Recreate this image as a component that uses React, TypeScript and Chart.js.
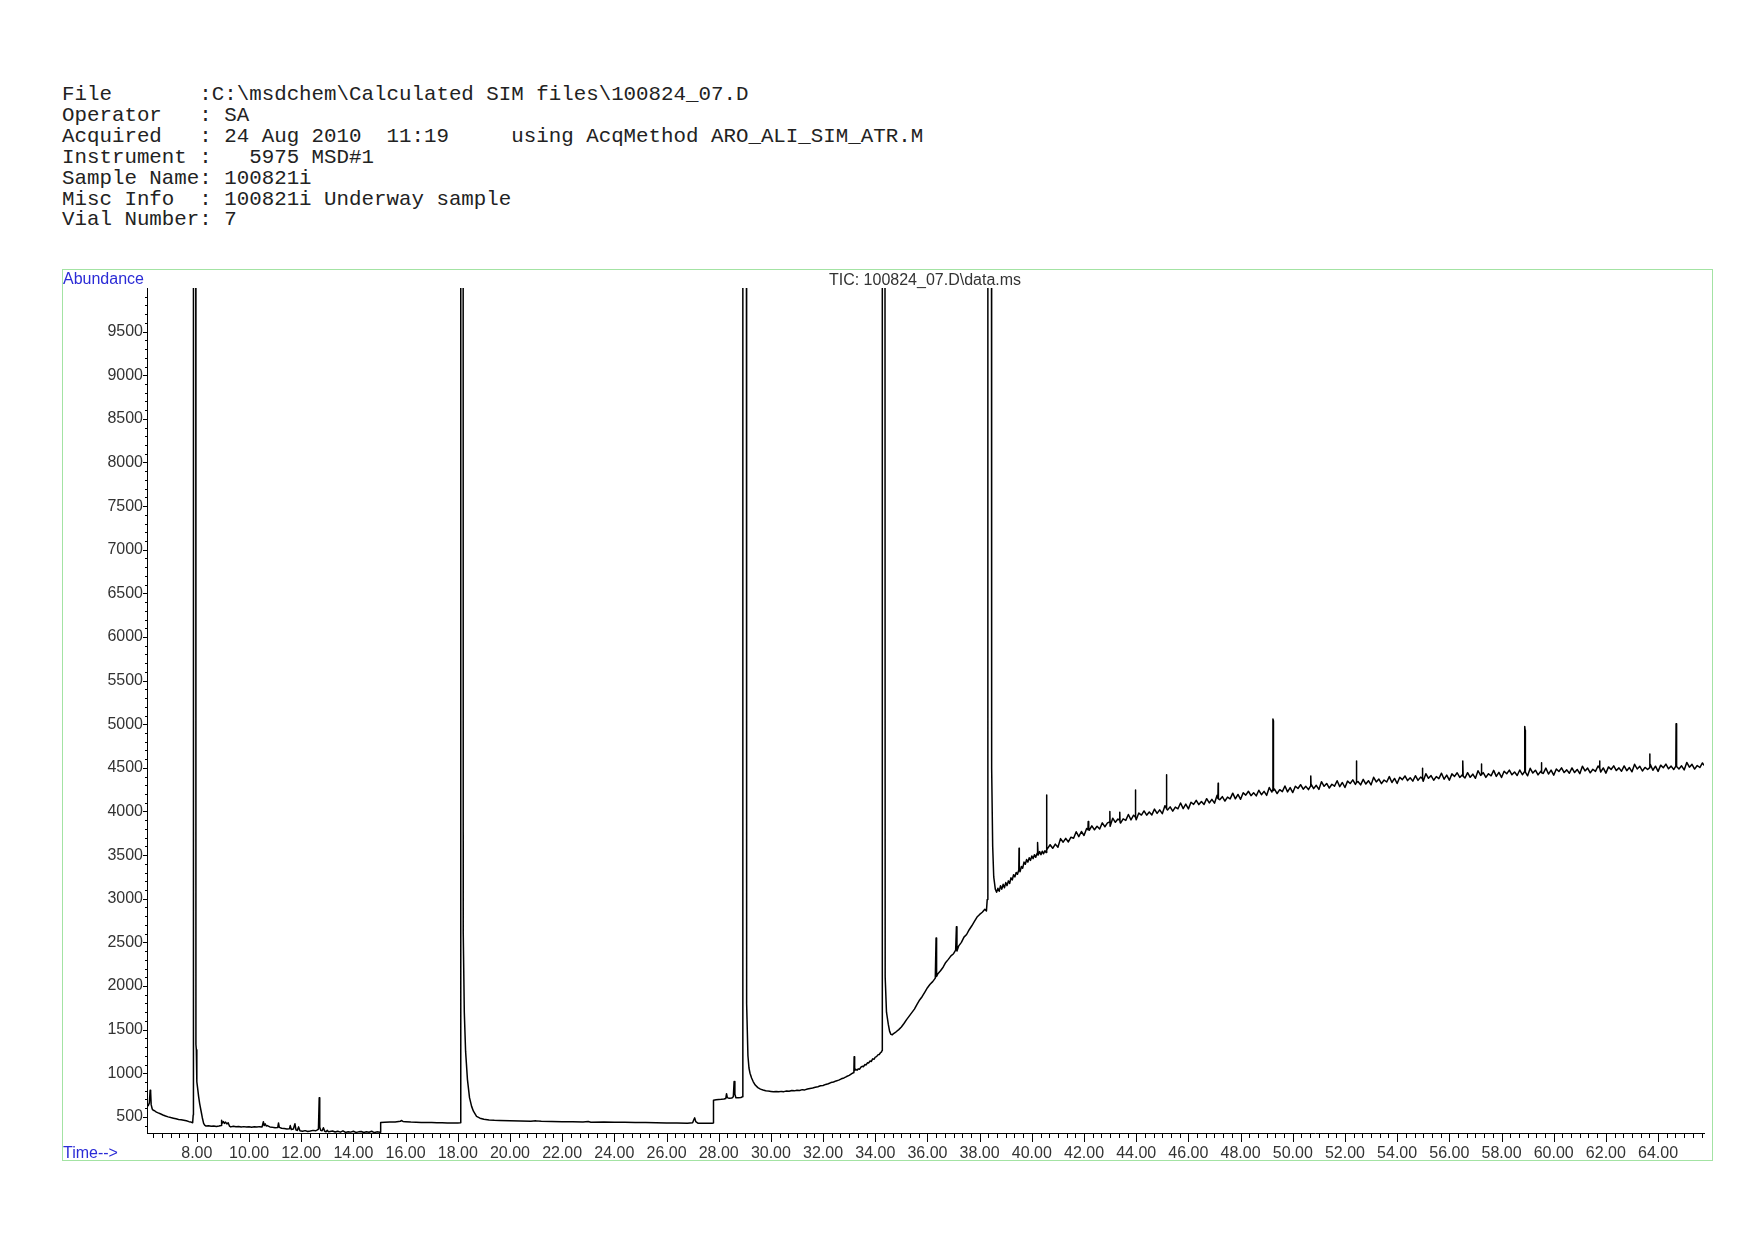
import React, { useEffect, useRef } from 'react';
import { Chart, registerables } from 'chart.js';

Chart.register(...registerables);

const headerLines = [
  'File       :C:\\msdchem\\Calculated SIM files\\100824_07.D',
  'Operator   : SA',
  'Acquired   : 24 Aug 2010  11:19     using AcqMethod ARO_ALI_SIM_ATR.M',
  'Instrument :   5975 MSD#1',
  'Sample Name: 100821i',
  'Misc Info  : 100821i Underway sample',
  'Vial Number: 7',
];

const chartTitle = 'TIC: 100824_07.D\\data.ms';
const yAxisName = 'Abundance';
const xAxisName = 'Time-->';

// axis ranges and ticks
const timeRange = [6.09, 65.76];
const abundanceRange = [315, 10000];
const xMajorTicks = [8, 10, 12, 14, 16, 18, 20, 22, 24, 26, 28, 30, 32, 34, 36, 38, 40, 42, 44, 46, 48, 50, 52, 54, 56, 58, 60, 62, 64];
const xMinorPerMajor = 6; // minor tick every 1/3 min
const yMajorTicks = [500, 1000, 1500, 2000, 2500, 3000, 3500, 4000, 4500, 5000, 5500, 6000, 6500, 7000, 7500, 8000, 8500, 9000, 9500];
const yMinorStep = 100;

// [time (min), abundance]
const earlyTrace = [
  [6.08, 615], [6.14, 630], [6.18, 660], [6.21, 805], [6.23, 780], [6.25, 640], [6.29, 590], [6.33, 575],
  [6.38, 570], [6.45, 555], [6.52, 545], [6.6, 535], [6.7, 522], [6.8, 510], [6.9, 500], [7.0, 492],
  [7.1, 485], [7.2, 478], [7.3, 470], [7.4, 468], [7.5, 462], [7.6, 455], [7.7, 445], [7.78, 440], [7.84, 432],
  [7.86, 520], [7.87, 25000], [7.91, 40000], [7.95, 25000], [7.965, 1330], [7.98, 1270], [7.995, 1240],
  [8.005, 900], [8.03, 830], [8.07, 730], [8.11, 650], [8.16, 570], [8.21, 490], [8.26, 425], [8.3, 405],
  [8.35, 395], [8.45, 398], [8.55, 392], [8.65, 396], [8.75, 390], [8.85, 395], [8.93, 400], [8.95, 460],
  [8.98, 430], [9.02, 445], [9.06, 425], [9.1, 440], [9.15, 420], [9.2, 432], [9.25, 395], [9.3, 385],
  [9.4, 392], [9.5, 386], [9.6, 390], [9.7, 384], [9.8, 388], [9.9, 383], [10.0, 387], [10.1, 382],
  [10.2, 386], [10.3, 384], [10.4, 388], [10.5, 385], [10.55, 445], [10.58, 400], [10.62, 420], [10.66, 395],
  [10.7, 400], [10.8, 385], [10.9, 380], [11.0, 376], [11.1, 378], [11.13, 430], [11.16, 380], [11.25, 370],
  [11.35, 366], [11.45, 362], [11.55, 365], [11.58, 400], [11.62, 355], [11.7, 360], [11.76, 420], [11.8, 350],
  [11.85, 345], [11.9, 385], [11.95, 340], [12.05, 335], [12.15, 342], [12.25, 332], [12.35, 338], [12.45, 345],
  [12.55, 340], [12.62, 350], [12.66, 360], [12.69, 720], [12.71, 380], [12.75, 345], [12.8, 340], [12.85, 375],
  [12.9, 335], [12.95, 330], [13.0, 345], [13.05, 328], [13.1, 332], [13.2, 338], [13.3, 326], [13.4, 335],
  [13.5, 325], [13.6, 340], [13.7, 322], [13.8, 330], [13.9, 325], [14.0, 335], [14.1, 322], [14.2, 328],
  [14.3, 332], [14.4, 320], [14.5, 330], [14.6, 324], [14.7, 335], [14.8, 320], [14.9, 328], [15.02, 325],
];

const midTrace = [
  [15.04, 330], [15.05, 435], [15.2, 438], [15.4, 440], [15.6, 442], [15.8, 450], [15.85, 458], [15.9, 448],
  [16.0, 445], [16.2, 440], [16.4, 438], [16.6, 436], [16.8, 435], [17.0, 434], [17.2, 433], [17.4, 432],
  [17.6, 431], [17.8, 430], [18.0, 430], [18.1, 432],
  [18.11, 600], [18.12, 25000], [18.16, 40000], [18.2, 25000], [18.21, 2600], [18.25, 1700], [18.3, 1250],
  [18.37, 930], [18.45, 720], [18.53, 620], [18.6, 565], [18.72, 505], [18.85, 485], [19.0, 472], [19.2, 465],
  [19.4, 460], [19.6, 458], [20.0, 455], [20.4, 452], [20.8, 450], [21.0, 454], [21.2, 449], [21.6, 447],
  [22.0, 445], [22.4, 443], [22.8, 442], [23.0, 446], [23.1, 439], [23.6, 440], [24.0, 438], [24.4, 437],
  [24.8, 436], [25.2, 434], [25.6, 432], [26.0, 430], [26.4, 429], [26.8, 428], [27.0, 432], [27.05, 470],
  [27.08, 488], [27.12, 445], [27.2, 428], [27.4, 427], [27.6, 428], [27.77, 428],
];

const plateauTrace = [
  [27.79, 430], [27.8, 690], [27.9, 695], [28.0, 700], [28.1, 702], [28.2, 705], [28.27, 710], [28.3, 765],
  [28.33, 720], [28.4, 712], [28.5, 715], [28.56, 730], [28.59, 905], [28.62, 760], [28.66, 720], [28.75, 718],
  [28.85, 722], [28.9, 730], [28.92, 1000],
  [28.93, 25000], [28.99, 40000], [29.05, 25000], [29.07, 1800], [29.12, 1200], [29.16, 1060],
  [29.2, 1000], [29.26, 945], [29.32, 905], [29.4, 865], [29.5, 835], [29.6, 818], [29.7, 808], [29.8, 800],
  [29.9, 795], [30.0, 792], [30.1, 789], [30.2, 791], [30.3, 787], [30.4, 792], [30.5, 789], [30.6, 796],
  [30.7, 793], [30.8, 801], [30.9, 798], [31.0, 806], [31.1, 803], [31.2, 812], [31.3, 809], [31.4, 819],
  [31.5, 826], [31.6, 831], [31.7, 839], [31.8, 845], [31.9, 856], [32.0, 860], [32.1, 872], [32.2, 880],
  [32.3, 893], [32.4, 899], [32.5, 912], [32.6, 921], [32.7, 936], [32.8, 946], [32.9, 962], [33.0, 975],
  [33.1, 995], [33.15, 1005], [33.18, 1010], [33.19, 1190], [33.21, 1030], [33.25, 1045], [33.3, 1035],
  [33.35, 1050], [33.4, 1046], [33.45, 1070], [33.5, 1080], [33.55, 1075], [33.6, 1100], [33.65, 1095],
  [33.7, 1120], [33.75, 1118], [33.8, 1140], [33.85, 1135], [33.9, 1165], [33.95, 1160], [34.0, 1185],
  [34.05, 1190], [34.1, 1210], [34.15, 1215], [34.2, 1235], [34.24, 1245],
];

const riseTrace = [
  [34.26, 1260], [34.27, 25000], [34.31, 40000], [34.36, 25000], [34.38, 2100], [34.43, 1700], [34.5, 1560],
  [34.55, 1480], [34.6, 1445], [34.65, 1440], [34.7, 1455], [34.8, 1475], [34.9, 1500], [35.0, 1530],
  [35.1, 1570], [35.2, 1615], [35.3, 1655], [35.4, 1695], [35.5, 1735], [35.6, 1790], [35.7, 1840],
  [35.8, 1880], [35.9, 1930], [36.0, 1980], [36.1, 2020], [36.2, 2050], [36.3, 2090], [36.33, 2550],
  [36.35, 2110], [36.4, 2140], [36.5, 2175], [36.6, 2215], [36.7, 2270], [36.8, 2305], [36.9, 2345],
  [37.0, 2370], [37.08, 2410], [37.11, 2680], [37.13, 2400], [37.2, 2460], [37.3, 2500], [37.4, 2560],
  [37.5, 2590], [37.6, 2645], [37.7, 2690], [37.8, 2740], [37.9, 2790], [38.0, 2820], [38.1, 2845],
  [38.2, 2880], [38.26, 2860], [38.29, 2990],
  [38.31, 3100], [38.32, 25000], [38.38, 40000], [38.44, 25000], [38.46, 4500], [38.5, 3600], [38.54, 3250],
  [38.6, 3110], [38.65, 3075], [38.7, 3120], [38.75, 3085], [38.8, 3150], [38.85, 3110], [38.9, 3165],
  [38.95, 3125], [39.0, 3185], [39.05, 3150], [39.1, 3205], [39.15, 3175], [39.2, 3240], [39.25, 3215],
  [39.3, 3275], [39.35, 3250], [39.4, 3300], [39.45, 3280], [39.5, 3330], [39.51, 3580], [39.52, 3340],
  [39.55, 3310], [39.6, 3370], [39.65, 3350], [39.7, 3420], [39.75, 3395], [39.8, 3450], [39.85, 3420],
  [39.9, 3470], [39.95, 3440], [40.0, 3490], [40.05, 3460], [40.1, 3505], [40.15, 3475], [40.2, 3520],
  [40.22, 3645], [40.24, 3500], [40.3, 3540], [40.35, 3505], [40.4, 3545], [40.45, 3515], [40.5, 3550],
  [40.55, 3530], [40.56, 4190], [40.58, 3560], [40.6, 3575],
];

const lateTrace = [
  [40.7, 3619], [40.8, 3578], [40.9, 3626], [41.0, 3590], [41.1, 3689], [41.2, 3648], [41.3, 3692], [41.4, 3651],
  [41.5, 3705], [41.6, 3694], [41.7, 3768], [41.8, 3712], [41.9, 3771], [42.0, 3725], [42.1, 3805], [42.15, 3790],
  [42.16, 3885], [42.18, 3790], [42.2, 3785], [42.3, 3835], [42.4, 3790], [42.5, 3830], [42.6, 3800], [42.7, 3870],
  [42.8, 3825], [42.9, 3870], [42.98, 3880], [42.99, 4000], [43.0, 3830], [43.1, 3923], [43.2, 3876], [43.3, 3914],
  [43.36, 3900], [43.37, 3990], [43.38, 3880], [43.4, 3867], [43.5, 3915], [43.6, 3898], [43.7, 3966], [43.8, 3904],
  [43.9, 3957], [43.96, 3940], [43.97, 4247], [43.98, 3930], [44.0, 3905], [44.1, 3982], [44.2, 3959], [44.3, 4006],
  [44.4, 3958], [44.5, 3995], [44.6, 3961], [44.7, 4027], [44.8, 3978], [44.9, 4019], [45.0, 3975], [45.1, 4066],
  [45.15, 4040], [45.16, 4420], [45.17, 4030], [45.2, 4017], [45.3, 4053], [45.4, 4004], [45.5, 4050], [45.6, 4031],
  [45.7, 4097], [45.8, 4033], [45.9, 4084], [46.0, 4030], [46.1, 4106], [46.2, 4082], [46.3, 4128], [46.4, 4079],
  [46.5, 4115], [46.6, 4081], [46.7, 4147], [46.8, 4098], [46.9, 4139], [47.0, 4095], [47.1, 4185], [47.13, 4150],
  [47.14, 4324], [47.15, 4145], [47.2, 4135], [47.3, 4170], [47.4, 4120], [47.5, 4165], [47.6, 4145], [47.7, 4210],
  [47.8, 4145], [47.9, 4195], [48.0, 4140], [48.1, 4214], [48.2, 4188], [48.3, 4232], [48.4, 4181], [48.5, 4215],
  [48.6, 4179], [48.7, 4243], [48.8, 4192], [48.9, 4231], [49.0, 4185], [49.1, 4274], [49.2, 4223], [49.23, 4250],
  [49.24, 5060], [49.255, 5040], [49.26, 4240], [49.3, 4257], [49.4, 4206], [49.5, 4250], [49.6, 4228], [49.7, 4292],
  [49.8, 4225], [49.9, 4274], [50.0, 4217], [50.1, 4290], [50.2, 4263], [50.3, 4307], [50.4, 4255], [50.5, 4288],
  [50.6, 4251], [50.68, 4290], [50.69, 4408], [50.7, 4314], [50.8, 4262], [50.9, 4300], [51.0, 4253], [51.1, 4341],
  [51.2, 4289], [51.3, 4321], [51.4, 4269], [51.5, 4312], [51.6, 4290], [51.7, 4352], [51.8, 4285], [51.9, 4332],
  [52.0, 4275], [52.1, 4348], [52.2, 4320], [52.3, 4363], [52.4, 4310], [52.43, 4330], [52.44, 4580], [52.45, 4335],
  [52.5, 4343], [52.6, 4305], [52.7, 4368], [52.8, 4315], [52.9, 4353], [53.0, 4305], [53.1, 4392], [53.2, 4339],
  [53.3, 4372], [53.4, 4319], [53.5, 4361], [53.6, 4338], [53.7, 4400], [53.8, 4332], [53.9, 4379], [54.0, 4321],
  [54.1, 4393], [54.2, 4365], [54.3, 4407], [54.4, 4354], [54.5, 4386], [54.6, 4348], [54.7, 4410], [54.8, 4357],
  [54.9, 4394], [54.96, 4380], [54.97, 4496], [54.98, 4370], [55.0, 4346], [55.1, 4433], [55.2, 4380], [55.3, 4411],
  [55.4, 4358], [55.5, 4400], [55.6, 4377], [55.7, 4439], [55.8, 4370], [55.9, 4417], [56.0, 4359], [56.1, 4431],
  [56.2, 4402], [56.3, 4444], [56.4, 4390], [56.5, 4422], [56.51, 4410], [56.52, 4580], [56.53, 4405], [56.6, 4384],
  [56.7, 4445], [56.8, 4392], [56.9, 4428], [57.0, 4380], [57.1, 4467], [57.2, 4413], [57.22, 4420], [57.23, 4545],
  [57.24, 4425], [57.3, 4445], [57.4, 4391], [57.5, 4433], [57.6, 4409], [57.7, 4471], [57.8, 4402], [57.9, 4449],
  [58.0, 4390], [58.1, 4461], [58.2, 4433], [58.3, 4474], [58.4, 4421], [58.5, 4452], [58.6, 4413], [58.7, 4475],
  [58.8, 4421], [58.88, 4455], [58.89, 4975], [58.905, 4930], [58.915, 4450], [59.0, 4409], [59.1, 4495], [59.2, 4441],
  [59.3, 4473], [59.4, 4419], [59.5, 4460], [59.52, 4450], [59.53, 4560], [59.54, 4445], [59.6, 4436], [59.7, 4497],
  [59.8, 4429], [59.9, 4475], [60.0, 4416], [60.1, 4487], [60.2, 4458], [60.3, 4500], [60.4, 4446], [60.5, 4477],
  [60.6, 4438], [60.7, 4499], [60.8, 4446], [60.9, 4482], [61.0, 4433], [61.1, 4519], [61.2, 4465], [61.3, 4497],
  [61.4, 4443], [61.5, 4484], [61.6, 4460], [61.7, 4521], [61.75, 4500], [61.76, 4580], [61.77, 4495], [61.8, 4453],
  [61.9, 4499], [62.0, 4440], [62.1, 4511], [62.2, 4482], [62.3, 4523], [62.4, 4469], [62.5, 4500], [62.6, 4461],
  [62.7, 4522], [62.8, 4468], [62.9, 4504], [63.0, 4455], [63.1, 4541], [63.2, 4487], [63.3, 4518], [63.4, 4464],
  [63.5, 4505], [63.6, 4481], [63.67, 4500], [63.68, 4660], [63.69, 4505], [63.7, 4542], [63.8, 4473], [63.9, 4519],
  [64.0, 4460], [64.1, 4531], [64.2, 4502], [64.3, 4543], [64.4, 4489], [64.5, 4520], [64.6, 4481], [64.68, 4520],
  [64.69, 5005], [64.705, 4950], [64.715, 4515], [64.8, 4488], [64.9, 4524], [65.0, 4476], [65.1, 4562], [65.2, 4508],
  [65.3, 4540], [65.4, 4486], [65.5, 4527], [65.6, 4504], [65.7, 4556], [65.76, 4528],
];

const LABEL_FONT = 'Arial, "Liberation Sans", sans-serif';

const isMajorX = (v: number) => xMajorTicks.some((m) => Math.abs(m - v) < 1e-6);
const isMajorY = (v: number) => yMajorTicks.some((m) => Math.abs(m - v) < 1e-6);

const tickMarks = {
  id: 'tickMarks',
  afterDraw(chart: any) {
    const ctx = chart.ctx;
    const xs = chart.scales.x;
    const ys = chart.scales.y;
    ctx.save();
    ctx.strokeStyle = '#000';
    ctx.lineWidth = 1;
    ctx.beginPath();
    xs.ticks.forEach((t: any) => {
      const p = Math.round(xs.getPixelForValue(t.value)) + 0.5;
      const len = isMajorX(t.value) ? 9 : 5;
      ctx.moveTo(p, xs.top);
      ctx.lineTo(p, xs.top + len);
    });
    ys.ticks.forEach((t: any) => {
      const p = Math.round(ys.getPixelForValue(t.value)) + 0.5;
      const len = isMajorY(t.value) ? 4 : 2;
      ctx.moveTo(ys.right - len, p);
      ctx.lineTo(ys.right, p);
    });
    ctx.stroke();
    ctx.restore();
  },
};

export default function App() {
  const canvasRef = useRef<HTMLCanvasElement>(null);

  useEffect(() => {
    document.body.style.overflow = 'hidden';
    const points = [...earlyTrace, ...midTrace, ...plateauTrace, ...riseTrace, ...lateTrace].map(([x, y]) => ({ x, y }));
    const chart = new Chart(canvasRef.current as HTMLCanvasElement, {
      type: 'line',
      data: {
        datasets: [
          {
            data: points,
            borderColor: '#000',
            borderWidth: 1.5,
            pointRadius: 0,
            borderJoinStyle: 'round',
            tension: 0,
            fill: false,
          },
        ],
      },
      options: {
        responsive: false,
        animation: false,
        devicePixelRatio: 1,
        events: [],
        layout: { padding: { left: 0, top: 288, right: 50, bottom: 0 }, autoPadding: false },
        plugins: { legend: { display: false }, tooltip: { enabled: false }, title: { display: false } },
        scales: {
          x: {
            type: 'linear',
            min: timeRange[0],
            max: timeRange[1],
            afterFit: (s: any) => {
              s.height = 107;
            },
            afterBuildTicks: (s: any) => {
              const ticks = [];
              const span = xMajorTicks[1] - xMajorTicks[0];
              const step = span / xMinorPerMajor;
              for (let n = Math.ceil(s.min / step); n * step <= s.max + 1e-9; n++) ticks.push({ value: (n * span) / xMinorPerMajor });
              s.ticks = ticks;
            },
            grid: { display: false, drawTicks: false },
            border: { display: true, color: '#000', width: 1 },
            ticks: {
              autoSkip: false,
              maxRotation: 0,
              minRotation: 0,
              padding: 11,
              color: '#333',
              font: { family: LABEL_FONT, size: 16 },
              callback: (v: any) => (isMajorX(Number(v)) ? Number(v).toFixed(2) : ''),
            },
          },
          y: {
            type: 'linear',
            min: abundanceRange[0],
            max: abundanceRange[1],
            afterFit: (s: any) => {
              s.width = 147;
            },
            afterBuildTicks: (s: any) => {
              const ticks = [];
              for (let v = Math.ceil(s.min / yMinorStep) * yMinorStep; v < s.max; v += yMinorStep) ticks.push({ value: v });
              s.ticks = ticks;
            },
            grid: { display: false, drawTicks: false },
            border: { display: true, color: '#000', width: 1 },
            ticks: {
              autoSkip: false,
              padding: 4,
              color: '#333',
              font: { family: LABEL_FONT, size: 16 },
              callback: (v: any) => (isMajorY(Number(v)) ? String(v) : ''),
            },
          },
        },
      },
      plugins: [tickMarks],
    } as any);
    return () => chart.destroy();
  }, []);

  const textBase: React.CSSProperties = {
    position: 'absolute',
    fontFamily: LABEL_FONT,
    fontSize: 16,
    lineHeight: '16px',
    whiteSpace: 'nowrap',
    margin: 0,
  };

  return (
    <div style={{ position: 'absolute', left: 0, top: 0, width: 1754, height: 1240, background: '#fff', overflow: 'hidden' }}>
      <pre
        style={{
          position: 'absolute',
          left: 62,
          top: 85,
          margin: 0,
          fontFamily: '"Liberation Mono", "DejaVu Sans Mono", monospace',
          fontSize: 20.8,
          lineHeight: '20.9px',
          color: '#222',
        }}
      >
        {headerLines.join('\n')}
      </pre>
      <div
        style={{
          position: 'absolute',
          left: 62,
          top: 269,
          width: 1649,
          height: 890,
          border: '1px solid #a3e3a3',
        }}
      />
      <canvas ref={canvasRef} width={1754} height={1240} style={{ position: 'absolute', left: 0, top: 0 }} />
      <div style={{ ...textBase, left: 63, top: 271, color: '#2b2bd6' }}>{yAxisName}</div>
      <div style={{ ...textBase, left: 925, top: 272, color: '#333', transform: 'translateX(-50%)' }}>{chartTitle}</div>
      <div style={{ ...textBase, left: 63, top: 1145, color: '#2b2bd6' }}>{xAxisName}</div>
    </div>
  );
}
